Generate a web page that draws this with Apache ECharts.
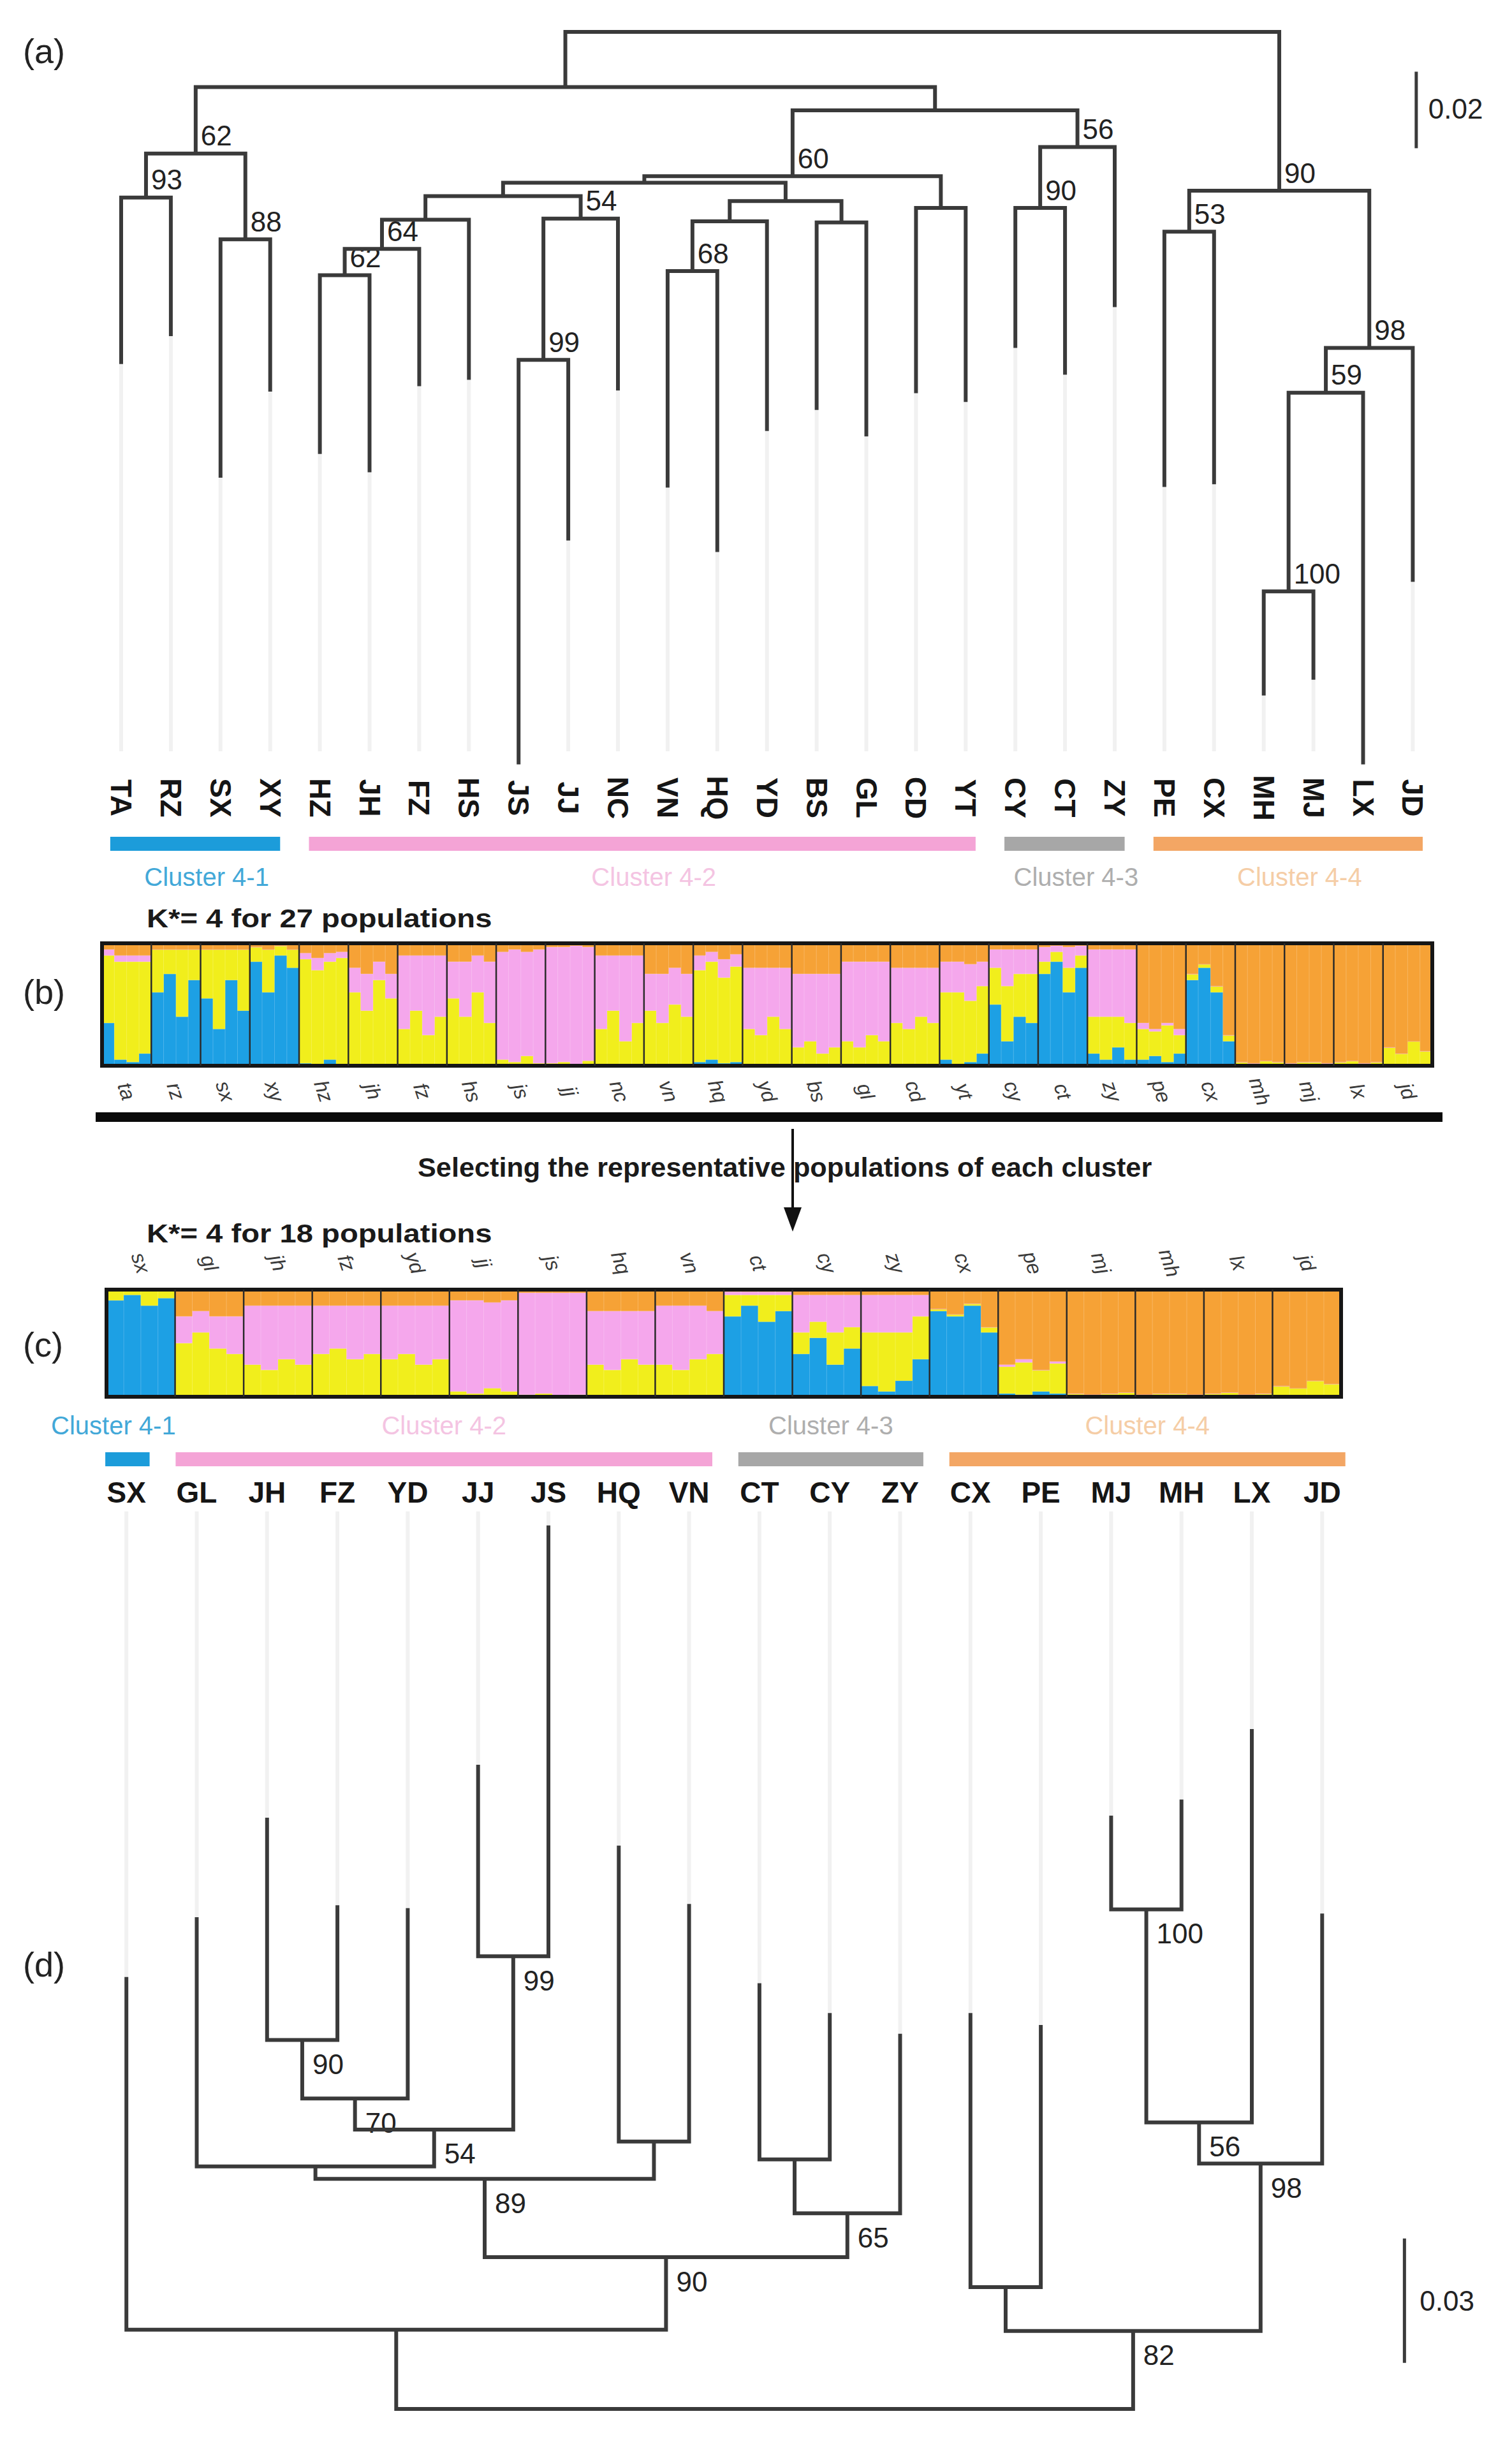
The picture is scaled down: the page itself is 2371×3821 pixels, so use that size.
<!DOCTYPE html>
<html>
<head>
<meta charset="utf-8">
<script src="https://cdn.jsdelivr.net/npm/echarts@6/dist/echarts.min.js"></script>
<style>
html,body{margin:0;padding:0;background:#ffffff;}
#chart{width:2371px;height:3821px;}
</style>
</head>
<body>
<div id="chart"></div>
<script>
// ================= DATA =================
// (a) neighbour-joining tree of 27 populations (leaf order left to right)
const leavesA = ['TA','RZ','SX','XY','HZ','JH','FZ','HS','JS','JJ','NC','VN','HQ','YD','BS','GL','CD','YT','CY','CT','ZY','PE','CX','MH','MJ','LX','JD'];
// distance of each leaf from the root
const leafDepthA = [0.0868,0.0795,0.1165,0.0940,0.1103,0.1151,0.0926,0.0909,0.1914,0.1329,0.0937,0.1191,0.1359,0.1043,0.0988,0.1057,0.0944,0.0967,0.0826,0.0896,0.0719,0.1189,0.1182,0.1734,0.1693,0.1914,0.1437];
// internal nodes: [id, child1, child2, distance from root, bootstrap]
const treeA = [
  ['n93','TA','RZ',0.0433,'93'],
  ['n88','SX','XY',0.0542,'88'],
  ['n62a','n93','n88',0.0318,'62'],
  ['n62b','HZ','JH',0.0636,'62'],
  ['n64','n62b','FZ',0.0567,'64'],
  ['nHS','n64','HS',0.0491,''],
  ['n99','JS','JJ',0.0857,'99'],
  ['n54','n99','NC',0.0488,'54'],
  ['nZ','nHS','n54',0.0429,''],
  ['n68','VN','HQ',0.0625,'68'],
  ['nYD','n68','YD',0.0495,''],
  ['nBG','BS','GL',0.0498,''],
  ['nY','nYD','nBG',0.0442,''],
  ['nX','nZ','nY',0.0394,''],
  ['nCY','CD','YT',0.0460,''],
  ['n60','nX','nCY',0.0377,'60'],
  ['n90c','CY','CT',0.0460,'90'],
  ['n56','n90c','ZY',0.0301,'56'],
  ['nB','n60','n56',0.0205,''],
  ['nA','n62a','nB',0.0144,''],
  ['n53','PE','CX',0.0522,'53'],
  ['n100','MH','MJ',0.1462,'100'],
  ['n59','n100','LX',0.0943,'59'],
  ['n98','n59','JD',0.0826,'98'],
  ['n90r','n53','n98',0.0415,'90'],
  ['root','nA','n90r',0,'']
];
const scaleBarA = 0.02;

// (d) tree of the 18 representative populations
const leavesD = ['SX','GL','JH','FZ','YD','JJ','JS','HQ','VN','CT','CY','ZY','CX','PE','MJ','MH','LX','JD'];
const leafDepthD = [0.1042,0.1186,0.1426,0.1215,0.1208,0.1554,0.2131,0.1359,0.1218,0.1027,0.0955,0.0905,0.0955,0.0926,0.1431,0.1470,0.1640,0.1195];
const treeD = [
  ['n90','JH','FZ',0.0890,'90'],
  ['n70','n90','YD',0.0749,'70'],
  ['n99','JJ','JS',0.1092,'99'],
  ['n54','n70','n99',0.0674,'54'],
  ['nG','GL','n54',0.0585,''],
  ['nHV','HQ','VN',0.0645,''],
  ['n89','nG','nHV',0.0555,'89'],
  ['nCC','CT','CY',0.0602,''],
  ['n65','nCC','ZY',0.0472,'65'],
  ['n90b','n89','n65',0.0366,'90'],
  ['nL','SX','n90b',0.0191,''],
  ['nCP','CX','PE',0.0294,''],
  ['n100','MJ','MH',0.1205,'100'],
  ['n56','n100','LX',0.0691,'56'],
  ['n98','n56','JD',0.0592,'98'],
  ['n82','nCP','n98',0.0188,'82'],
  ['root','nL','n82',0,'']
];
const scaleBarD = 0.03;

// clusters
const clusterNames = ['Cluster 4-1','Cluster 4-2','Cluster 4-3','Cluster 4-4'];
const clusterSpanA = [['TA','XY'],['HZ','YT'],['CY','ZY'],['PE','JD']];
const clusterSpanC = [['SX','SX'],['GL','VN'],['CT','ZY'],['CX','JD']];

// (b) STRUCTURE K=4, 27 populations (same order as leavesA), 4 individuals each, % membership
const popsB = leavesA;
const blueB   = [35,5,3,10, 60,75,40,70, 55,30,70,45, 85,60,90,80, 2,0,5,0, 0,0,0,0, 0,0,0,0, 0,0,0,0, 0,0,0,0, 0,0,0,0, 0,0,0,0, 0,0,0,0, 3,5,2,3, 0,0,0,0, 0,0,0,0, 0,0,0,0, 0,0,0,0, 5,0,3,10, 50,20,40,35, 75,85,60,80, 10,5,15,5, 5,8,3,10, 70,80,60,20, 0,0,0,0, 0,0,0,0, 0,0,0,0, 0,0,0,0];
const yellowB = [55,80,82,75, 35,20,55,25, 40,65,25,50, 12,35,8,15, 85,78,80,88, 60,45,70,55, 30,45,25,40, 55,40,60,35, 5,3,8,2, 2,3,1,4, 30,45,20,35, 45,35,50,40, 75,80,70,78, 30,25,40,30, 15,20,10,15, 20,15,25,20, 35,30,40,35, 55,60,50,55, 30,45,35,40, 10,8,20,10, 30,35,25,30, 25,20,30,15, 5,3,5,5, 3,2,4,3, 2,3,3,2, 3,4,2,3, 15,10,20,12];
const pinkB   = [5,5,5,5, 0,0,0,0, 0,0,0,0, 0,0,0,0, 5,10,7,5, 20,30,15,20, 60,45,65,50, 30,45,30,50, 88,92,85,93, 95,94,97,93, 60,45,70,55, 30,40,30,35, 12,8,15,10, 50,55,40,50, 60,55,65,60, 65,70,60,65, 45,50,40,45, 25,25,30,20, 15,30,20,20, 12,5,17,8, 55,55,55,60, 5,2,2,5, 0,0,0,0, 0,0,0,0, 0,0,0,0, 0,0,0,0, 0,0,0,0];
const orangeB = [5,10,10,10, 5,5,5,5, 5,5,5,5, 3,5,2,5, 8,12,8,7, 20,25,15,25, 10,10,10,10, 15,15,10,15, 7,5,7,5, 3,3,2,3, 10,10,10,10, 25,25,20,25, 10,7,13,9, 20,20,20,20, 25,25,25,25, 15,15,15,15, 20,20,20,20, 15,15,17,15, 5,5,5,5, 3,2,3,2, 5,5,5,5, 65,70,65,70, 25,17,35,75, 97,98,96,97, 98,97,97,98, 97,96,98,97, 85,90,80,88];

// (c) STRUCTURE K=4, 18 populations (same order as leavesD)
const popsC = leavesD;
const blueC   = [90,95,85,92, 0,0,0,0, 0,0,0,0, 0,0,0,0, 0,0,0,0, 0,0,0,0, 0,0,0,0, 0,0,0,0, 0,0,0,0, 75,85,70,80, 40,55,30,45, 10,5,15,35, 80,75,85,60, 3,2,5,3, 0,0,0,0, 0,0,0,0, 0,0,0,0, 0,0,0,0];
const yellowC = [10,5,15,8, 50,60,45,40, 30,25,35,30, 40,45,35,40, 35,40,30,35, 5,3,8,5, 2,3,1,2, 30,25,35,30, 30,25,35,40, 20,10,25,15, 20,15,30,20, 50,55,45,40, 2,2,2,5, 25,30,20,28, 3,2,3,4, 2,3,3,2, 3,4,2,3, 10,8,15,12];
const pinkC   = [0,0,0,0, 25,20,30,35, 55,60,50,55, 45,40,50,45, 50,45,55,50, 85,87,80,85, 95,94,96,95, 50,55,45,50, 55,60,50,40, 3,3,3,3, 35,25,35,30, 35,35,35,20, 0,0,0,0, 2,3,0,2, 0,0,0,0, 0,0,0,0, 0,0,0,0, 0,0,0,0];
const orangeC = [0,0,0,0, 25,20,25,25, 15,15,15,15, 15,15,15,15, 15,15,15,15, 10,10,12,10, 3,3,3,3, 20,20,20,20, 15,15,15,20, 2,2,2,2, 5,5,5,5, 5,5,5,5, 18,23,13,35, 70,65,75,67, 97,98,97,96, 98,97,97,98, 97,96,98,97, 90,92,85,88];

// ================= STYLE / LAYOUT =================
const W = 2371, H = 3821;
const FONT = '"Liberation Sans", Arial, Helvetica, sans-serif';
const treeColor = '#3a3a3a';
const faintColor = '#f1f1f1';
const structColors = ['#1DA0E4', '#F1EE1C', '#F5A7EC', '#F6A236'];
const clusterColors = ['#1C9CDA', '#F4A4D6', '#A7A7A7', '#F3A664'];
const clusterTextColors = ['#42A8D8', '#F4C4E2', '#AEAEAE', '#F5CDA6'];
const leafX0A = 190, leafStepA = 77.9;
const leafX0D = 198.2, leafStepD = 110.3;

function buildTree(leaves, depths, rows) {
  const pos = {};
  leaves.forEach((n, i) => { pos[n] = [i, depths[i]]; });
  return rows.map(r => {
    const L = pos[r[1]], R = pos[r[2]];
    const x = (L[0] + R[0]) / 2;
    pos[r[0]] = [x, r[3]];
    return [L[0], L[1], R[0], R[1], x, r[3]];
  });
}

function treeSeries(xi, yi, rows, data, mode) {
  return {
    type: 'custom', xAxisIndex: xi, yAxisIndex: yi, silent: true, animation: false, z: 3,
    data: data,
    renderItem(params, api) {
      const p1 = api.coord([api.value(0), api.value(1)]);
      const p2 = api.coord([api.value(0), api.value(5)]);
      const p3 = api.coord([api.value(2), api.value(5)]);
      const p4 = api.coord([api.value(2), api.value(3)]);
      const pn = api.coord([api.value(4), api.value(5)]);
      const children = [{
        type: 'polyline', shape: { points: [p1, p2, p3, p4] },
        style: { stroke: treeColor, lineWidth: 6, fill: 'none' }
      }];
      const sup = rows[params.dataIndex][4];
      if (sup) {
        children.push({
          type: 'text',
          x: pn[0] + (mode === 'above' ? 8 : 16),
          y: pn[1] + (mode === 'above' ? -6 : 16),
          style: { text: sup, fill: '#222', fontSize: 44, fontFamily: FONT, align: 'left', verticalAlign: mode === 'above' ? 'bottom' : 'top' }
        });
      }
      return { type: 'group', children };
    }
  };
}

function structBars(xi, yi, stack, arrays) {
  return arrays.map((arr, k) => ({
    type: 'bar', xAxisIndex: xi, yAxisIndex: yi, stack: stack, data: arr,
    barCategoryGap: '0%', barWidth: '100%', silent: true, animation: false,
    itemStyle: { color: structColors[k], borderColor: structColors[k], borderWidth: 0.8 }
  }));
}

function structFrame(xi, yi, pops, side) {
  const n = pops.length;
  return {
    type: 'custom', xAxisIndex: xi, yAxisIndex: yi, silent: true, animation: false, z: 5,
    data: pops.map((p, i) => [i, 0]),
    renderItem(params, api) {
      const i = params.dataIndex;
      const pTop = api.coord([i, 100]), pBot = api.coord([i, 0]);
      const children = [];
      if (i > 0) {
        children.push({ type: 'line', shape: { x1: pTop[0], y1: pTop[1], x2: pBot[0], y2: pBot[1] }, style: { stroke: '#2a2a2a', lineWidth: 2.5 } });
      } else {
        const pEnd = api.coord([n, 0]);
        children.push({ type: 'rect', shape: { x: pTop[0], y: pTop[1], width: pEnd[0] - pTop[0], height: pBot[1] - pTop[1] }, style: { stroke: '#161616', lineWidth: 6, fill: 'none' } });
      }
      const c = api.coord([i + 0.5, side === 'below' ? 0 : 100]);
      children.push({
        type: 'text', x: c[0], y: c[1] + (side === 'below' ? 40 : -42), rotation: -1.25,
        style: { text: pops[i].toLowerCase(), fill: '#3a3a3a', fontSize: 32, fontStyle: 'italic', fontFamily: FONT, align: 'center', verticalAlign: 'middle' }
      });
      return { type: 'group', children };
    }
  };
}

const treeDataA = buildTree(leavesA, leafDepthA, treeA);
const treeDataD = buildTree(leavesD, leafDepthD, treeD);
const indB = blueB.map((v, i) => i);
const indC = blueC.map((v, i) => i);

const option = {
  backgroundColor: '#ffffff',
  animation: false,
  grid: [
    { left: 0, right: 0, top: 50, height: 1200 },
    { left: 160, width: 2086, top: 1479, height: 192 },
    { left: 167, width: 1936, top: 2022, height: 168 },
    { left: 0, right: 0, top: 2282, height: 1495 }
  ],
  xAxis: [
    { gridIndex: 0, type: 'value', min: -leafX0A / leafStepA, max: (W - leafX0A) / leafStepA, show: false },
    { gridIndex: 1, type: 'category', data: indB, show: false },
    { gridIndex: 1, type: 'value', min: 0, max: popsB.length, show: false },
    { gridIndex: 2, type: 'category', data: indC, show: false },
    { gridIndex: 2, type: 'value', min: 0, max: popsC.length, show: false },
    { gridIndex: 3, type: 'value', min: -leafX0D / leafStepD, max: (W - leafX0D) / leafStepD, show: false }
  ],
  yAxis: [
    { gridIndex: 0, type: 'value', min: 0, max: 0.2, inverse: true, show: false },
    { gridIndex: 1, type: 'value', min: 0, max: 100, show: false },
    { gridIndex: 2, type: 'value', min: 0, max: 100, show: false },
    { gridIndex: 3, type: 'value', min: 0, max: 0.23, show: false }
  ],
  series: [
    // ---- (a) faint guide lines + leaf labels ----
    {
      type: 'custom', xAxisIndex: 0, yAxisIndex: 0, silent: true, animation: false, z: 2,
      data: leavesA.map((n, i) => [i, leafDepthA[i]]),
      renderItem(params, api) {
        const i = api.value(0), d = api.value(1);
        const children = [];
        const fEnd = 0.188;
        if (d < fEnd) {
          const a = api.coord([i, d]), b = api.coord([i, fEnd]);
          children.push({ type: 'line', shape: { x1: a[0], y1: a[1], x2: b[0], y2: b[1] }, style: { stroke: faintColor, lineWidth: 6 } });
        }
        const l = api.coord([i, 0.2]);
        children.push({ type: 'text', x: l[0], y: l[1] + 1, rotation: -Math.PI / 2,
          style: { text: leavesA[params.dataIndex], fill: '#151515', fontSize: 46, fontWeight: 'bold', fontFamily: FONT, align: 'center', verticalAlign: 'middle' } });
        return { type: 'group', children };
      }
    },
    treeSeries(0, 0, treeA, treeDataA, 'above'),
    // (a) cluster bars
    {
      type: 'custom', xAxisIndex: 0, yAxisIndex: 0, silent: true, animation: false,
      data: clusterSpanA.map(s => [leavesA.indexOf(s[0]), leavesA.indexOf(s[1])]),
      renderItem(params, api) {
        const k = params.dataIndex;
        const p0 = api.coord([api.value(0) - 0.22, 0.2]);
        const p1 = api.coord([api.value(1) + 0.2, 0.2]);
        const y = p0[1] + 73;
        return { type: 'group', children: [
          { type: 'rect', shape: { x: p0[0], y: y - 11, width: p1[0] - p0[0], height: 22 }, style: { fill: clusterColors[k] } },
          { type: 'text', x: (p0[0] + p1[0]) / 2 + 18, y: y + 52, style: { text: clusterNames[k], fill: clusterTextColors[k], fontSize: 40, fontFamily: FONT, align: 'center', verticalAlign: 'middle' } }
        ] };
      }
    },
    // (a) scale bar
    {
      type: 'custom', xAxisIndex: 0, yAxisIndex: 0, silent: true, animation: false,
      data: [[26.07, 0.0104]],
      renderItem(params, api) {
        const a = api.coord([api.value(0), api.value(1)]);
        const b = api.coord([api.value(0), api.value(1) + scaleBarA]);
        return { type: 'group', children: [
          { type: 'line', shape: { x1: a[0], y1: a[1], x2: b[0], y2: b[1] }, style: { stroke: treeColor, lineWidth: 5 } },
          { type: 'text', x: a[0] + 19, y: (a[1] + b[1]) / 2 - 2, style: { text: String(scaleBarA), fill: '#222', fontSize: 44, fontFamily: FONT, align: 'left', verticalAlign: 'middle' } }
        ] };
      }
    },
    // ---- (b) structure ----
    ...structBars(1, 1, 'b', [blueB, yellowB, pinkB, orangeB]),
    structFrame(2, 1, popsB, 'below'),
    // ---- (c) structure ----
    ...structBars(3, 2, 'c', [blueC, yellowC, pinkC, orangeC]),
    structFrame(4, 2, popsC, 'above'),
    // ---- (d) faint lines + leaf labels ----
    {
      type: 'custom', xAxisIndex: 5, yAxisIndex: 3, silent: true, animation: false, z: 2,
      data: leavesD.map((n, i) => [i, leafDepthD[i]]),
      renderItem(params, api) {
        const i = api.value(0), d = api.value(1);
        const children = [];
        const fEnd = 0.2165;
        const a = api.coord([i, d]), b = api.coord([i, fEnd]);
        children.push({ type: 'line', shape: { x1: a[0], y1: a[1], x2: b[0], y2: b[1] }, style: { stroke: faintColor, lineWidth: 6 } });
        const t = api.coord([i, 0.23]);
        children.push({ type: 'text', x: t[0], y: t[1] + 58,
          style: { text: leavesD[params.dataIndex], fill: '#151515', fontSize: 46, fontWeight: 'bold', fontFamily: FONT, align: 'center', verticalAlign: 'middle' } });
        return { type: 'group', children };
      }
    },
    treeSeries(5, 3, treeD, treeDataD, 'below'),
    // (c) cluster bars
    {
      type: 'custom', xAxisIndex: 5, yAxisIndex: 3, silent: true, animation: false,
      data: clusterSpanC.map(s => [leavesD.indexOf(s[0]), leavesD.indexOf(s[1])]),
      renderItem(params, api) {
        const k = params.dataIndex;
        const p0 = api.coord([api.value(0) - 0.3, 0.23]);
        const p1 = api.coord([api.value(1) + 0.33, 0.23]);
        const y = p0[1] + 6;
        const shift = k === 0 ? -22 : 0;
        return { type: 'group', children: [
          { type: 'rect', shape: { x: p0[0], y: y - 11, width: p1[0] - p0[0], height: 22 }, style: { fill: clusterColors[k] } },
          { type: 'text', x: (p0[0] + p1[0]) / 2 + shift, y: y - 53, style: { text: clusterNames[k], fill: clusterTextColors[k], fontSize: 40, fontFamily: FONT, align: 'center', verticalAlign: 'middle' } }
        ] };
      }
    },
    // (d) scale bar
    {
      type: 'custom', xAxisIndex: 5, yAxisIndex: 3, silent: true, animation: false,
      data: [[18.17, 0.0111]],
      renderItem(params, api) {
        const a = api.coord([api.value(0), api.value(1)]);
        const b = api.coord([api.value(0), api.value(1) + scaleBarD]);
        return { type: 'group', children: [
          { type: 'line', shape: { x1: a[0], y1: a[1], x2: b[0], y2: b[1] }, style: { stroke: treeColor, lineWidth: 5 } },
          { type: 'text', x: a[0] + 24, y: (a[1] + b[1]) / 2, style: { text: String(scaleBarD), fill: '#222', fontSize: 44, fontFamily: FONT, align: 'left', verticalAlign: 'middle' } }
        ] };
      }
    }
  ],
  graphic: [
    { type: 'text', x: 36, y: 80, style: { text: '(a)', fill: '#222', fontSize: 54, fontFamily: FONT, verticalAlign: 'middle' } },
    { type: 'text', x: 36, y: 1555, style: { text: '(b)', fill: '#222', fontSize: 54, fontFamily: FONT, verticalAlign: 'middle' } },
    { type: 'text', x: 36, y: 2108, style: { text: '(c)', fill: '#222', fontSize: 54, fontFamily: FONT, verticalAlign: 'middle' } },
    { type: 'text', x: 36, y: 3080, style: { text: '(d)', fill: '#222', fontSize: 54, fontFamily: FONT, verticalAlign: 'middle' } },
    { type: 'text', x: 230, y: 1440, scaleX: 1.18, style: { text: 'K*= 4 for 27 populations', fill: '#1a1a1a', fontSize: 40, fontWeight: 'bold', fontFamily: FONT, verticalAlign: 'middle' } },
    { type: 'rect', shape: { x: 150, y: 1744, width: 2112, height: 15 }, style: { fill: '#0a0a0a' } },
    { type: 'text', x: 655, y: 1830, scaleX: 1.03, style: { text: 'Selecting the representative populations of each cluster', fill: '#1a1a1a', fontSize: 42, fontWeight: 'bold', fontFamily: FONT, verticalAlign: 'middle' } },
    { type: 'line', shape: { x1: 1243, y1: 1770, x2: 1243, y2: 1900 }, style: { stroke: '#111', lineWidth: 4 } },
    { type: 'polygon', shape: { points: [[1229, 1893], [1257, 1893], [1243, 1931]] }, style: { fill: '#111' } },
    { type: 'text', x: 230, y: 1934, scaleX: 1.18, style: { text: 'K*= 4 for 18 populations', fill: '#1a1a1a', fontSize: 40, fontWeight: 'bold', fontFamily: FONT, verticalAlign: 'middle' } }
  ]
};

const chart = echarts.init(document.getElementById('chart'), null, { renderer: 'svg', width: W, height: H });
chart.setOption(option);
</script>
</body>
</html>
